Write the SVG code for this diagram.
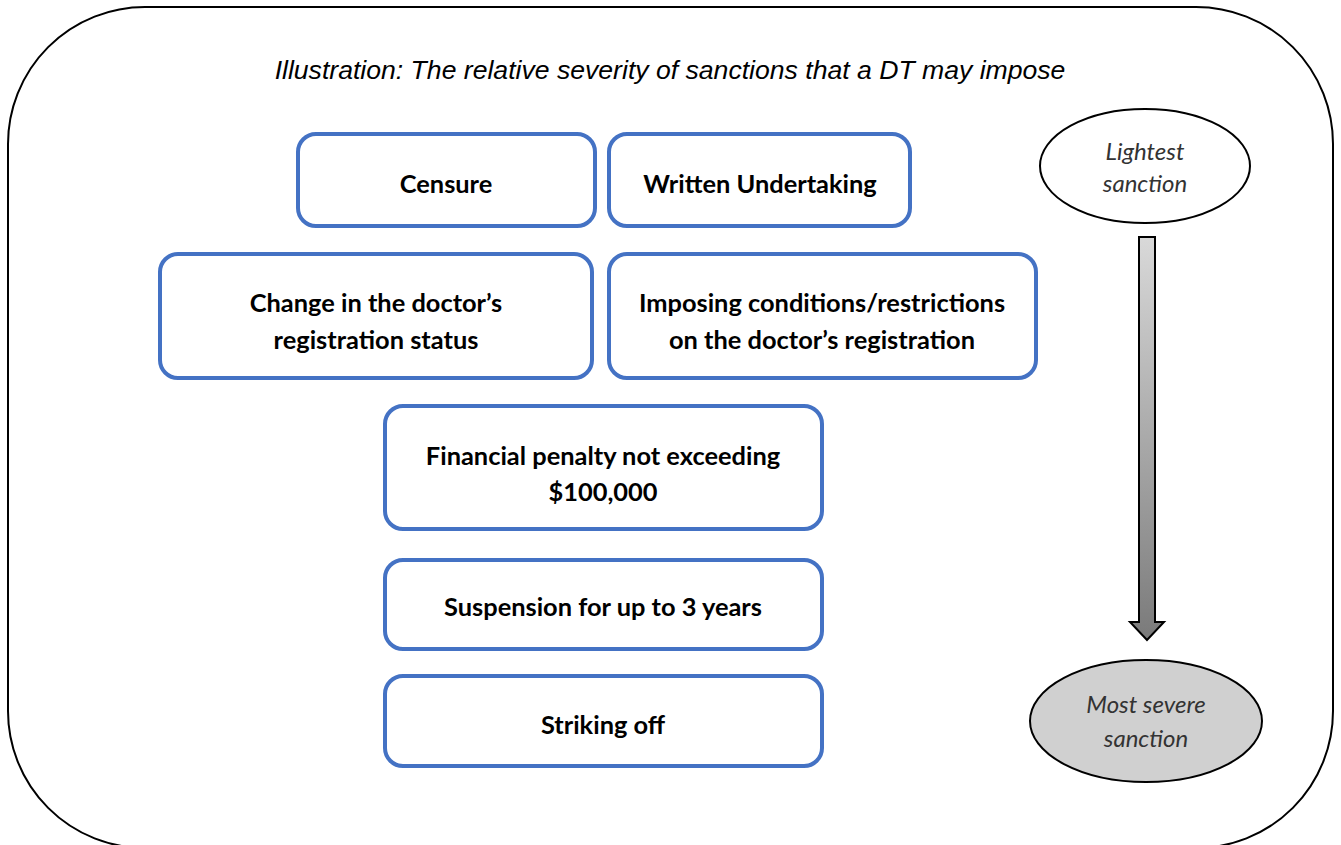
<svg xmlns="http://www.w3.org/2000/svg" width="1341" height="845" viewBox="0 0 1341 845">
<style>
.box{fill:#fff;stroke:#4472C4;stroke-width:4}
.bt{font-family:Lato,"Open Sans","Liberation Sans",sans-serif;font-weight:bold;font-size:25.4px;fill:#000;text-anchor:middle}
.et{font-family:Lato,"Open Sans","Liberation Sans",sans-serif;font-style:italic;font-size:24px;fill:#333;text-anchor:middle}
.ell{stroke:#000;stroke-width:2}
</style>
<defs>
<linearGradient id="ag" x1="0" y1="0" x2="0" y2="1">
<stop offset="0" stop-color="#d9d9d9"/>
<stop offset="1" stop-color="#7a7a7a"/>
</linearGradient>
</defs>
<rect x="8" y="7" width="1325" height="841" rx="137" ry="137" fill="#fff" stroke="#000" stroke-width="2"/>
<text x="670" y="79" font-family="'Liberation Sans',Arial,sans-serif" font-style="italic" font-size="26.6" text-anchor="middle" fill="#000">Illustration: The relative severity of sanctions that a DT may impose</text>
<g id="censure"><rect class="box" x="298" y="134" width="297" height="92" rx="18"/><text class="bt" x="446" y="193">Censure</text></g>
<g id="written"><rect class="box" x="609" y="134" width="301" height="92" rx="18"/><text class="bt" x="760" y="193">Written Undertaking</text></g>
<g id="change"><rect class="box" x="160" y="254" width="432" height="124" rx="18"/><text class="bt" x="376" y="312">Change in the doctor’s</text><text class="bt" x="376" y="349">registration status</text></g>
<g id="imposing"><rect class="box" x="609" y="254" width="427" height="124" rx="18"/><text class="bt" x="822" y="312">Imposing conditions/restrictions</text><text class="bt" x="822" y="349">on the doctor’s registration</text></g>
<g id="financial"><rect class="box" x="385" y="406" width="437" height="123" rx="18"/><text class="bt" x="603" y="465">Financial penalty not exceeding</text><text class="bt" x="603" y="501">$100,000</text></g>
<g id="suspension"><rect class="box" x="385" y="560" width="437" height="89" rx="18"/><text class="bt" x="603" y="616">Suspension for up to 3 years</text></g>
<g id="striking"><rect class="box" x="385" y="676" width="437" height="90" rx="18"/><text class="bt" x="603" y="734">Striking off</text></g>
<g id="lightest"><ellipse class="ell" cx="1145" cy="166" rx="105" ry="57" fill="#fff"/><text class="et" x="1145" y="160">Lightest</text><text class="et" x="1145" y="192">sanction</text></g>
<g id="severe"><ellipse class="ell" cx="1146" cy="721" rx="116" ry="61" fill="#d0d0d0"/><text class="et" x="1146" y="713">Most severe</text><text class="et" x="1146" y="747">sanction</text></g>
<g id="connectors">
<path d="M1139,237 H1155 V622 H1164 L1147,640 L1130,622 H1139 Z" fill="url(#ag)" stroke="#000" stroke-width="2"/>
</g>
</svg>
